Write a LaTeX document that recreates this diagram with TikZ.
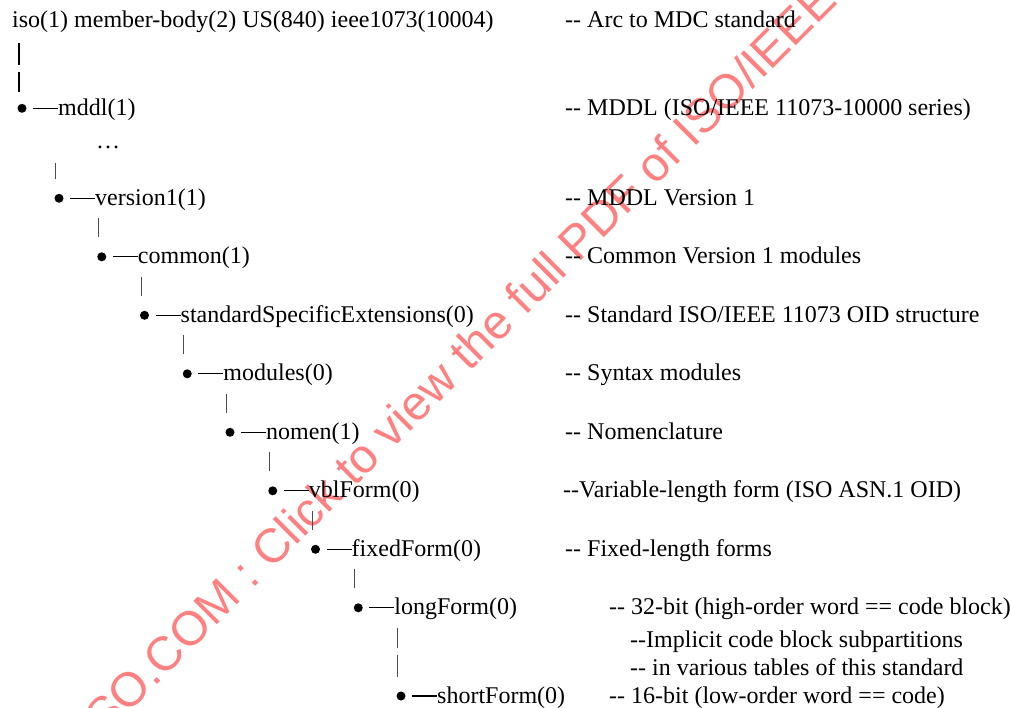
\documentclass[tikz,border=0pt]{standalone}
\usepackage{fontspec}
\setmainfont{Liberation Serif}[Ligatures=TeXOff]
\newfontfamily\marksans{Liberation Sans}
\tikzset{
  bullet/.style={circle,fill,inner sep=0pt,minimum size=9pt},
  oid/.style={anchor=base west,inner sep=0pt},
  arc/.style={line width=1.1pt,shorten <=6.5pt},
  vbar/.style={draw=black!70,line width=1.1pt,shorten <=20pt,shorten >=16pt},
  rootbar/.style={line width=1.8pt},
  watermark/.style={anchor=base west,inner sep=0pt,rotate=45,text=red!50,
    font=\marksans\fontsize{48}{48}\selectfont},
}
\begin{document}
\begin{tikzpicture}[x=1pt,y=-1pt,font=\fontsize{24}{28}\selectfont]
    \useasboundingbox (0,0) rectangle (1011,708);
    % Watermark of the page, lying behind the tree
    \node[watermark] (mark) at (271,571)
      {\llap{STANDARDSISO.COM :\ }Click to view the full PDF of ISO/IEEE 11073-10101:2020};

    % Root of the arc:
    \node[oid] (iso) at (12,28) {iso(1) member-body(2) US(840) ieee1073(10004)};

    % Bullets of the tree: `(x,y)` of each level
    \node[bullet] (b1) at (22,108.3) {};
    \node[bullet] (b2) at (59,198.3) {};
    \node[bullet] (b3) at (101.75,256.8) {};
    \node[bullet] (b4) at (144.5,315.3) {};
    \node[bullet] (b5) at (187.25,373.8) {};
    \node[bullet] (b6) at (230,432.3) {};
    \node[bullet] (b7) at (272.75,490.8) {};
    \node[bullet] (b8) at (315.5,549.3) {};
    \node[bullet] (b9) at (358.25,607.8) {};
    \node[bullet] (b10) at (401,696) {};

    % Names of the arcs, 36pt right of their bullet
    \node[oid] (mddl) at (58,115.3) {mddl(1)};
    \node[oid] (dots) at (96,148.5) {…};
    \node[oid] (version) at (95,205.3) {version1(1)};
    \node[oid] (common) at (137.75,263.8) {common(1)};
    \node[oid] (sse) at (180.5,322.3) {standardSpecificExtensions(0)};
    \node[oid] (modules) at (223.25,380.8) {modules(0)};
    \node[oid] (nomen) at (266,439.3) {nomen(1)};
    \node[oid] (vbl) at (308.75,497.8) {vblForm(0)};
    \node[oid] (fixed) at (351.5,556.3) {fixedForm(0)};
    \node[oid] (long) at (394.25,614.8) {longForm(0)};
    \node[oid] (short) at (437,703) {shortForm(0)};

    % Dashes from each bullet to its name
    \draw[arc] (b1) -- (b1 -| mddl.west);
    \draw[arc] (b2) -- (b2 -| version.west);
    \draw[arc] (b3) -- (b3 -| common.west);
    \draw[arc] (b4) -- (b4 -| sse.west);
    \draw[arc] (b5) -- (b5 -| modules.west);
    \draw[arc] (b6) -- (b6 -| nomen.west);
    \draw[arc] (b7) -- (b7 -| vbl.west);
    \draw[arc] (b8) -- (b8 -| fixed.west);
    \draw[arc] (b9) -- (b9 -| long.west);
    \draw[arc] (b10) -- (b10 -| short.west);

    % Vertical bars between the levels
    \draw[rootbar,shorten <=21pt,shorten >=12.5pt,dash pattern=on 22pt off 7pt on 60pt]
      (b1.north west |- iso) -- (b1.north west);
    \draw[vbar,shorten <=16pt] (b2.north west |- dots) -- (b2.north west);
    \draw[vbar] (b3.north west |- b2) -- (b3.north west);
    \draw[vbar] (b4.north west |- b3) -- (b4.north west);
    \draw[vbar] (b5.north west |- b4) -- (b5.north west);
    \draw[vbar] (b6.north west |- b5) -- (b6.north west);
    \draw[vbar] (b7.north west |- b6) -- (b7.north west);
    \draw[vbar] (b8.north west |- b7) -- (b8.north west);
    \draw[vbar] (b9.north west |- b8) -- (b9.north west);
    \draw[vbar,dash pattern=on 20pt off 7pt on 60pt] (b10.north west |- b9) -- (b10.north west);

    % Comments of the arcs
    \node[oid] (c0) at (565,28) {-- Arc to MDC standard};
    \node[oid] (c1) at (565,115.3) {-- MDDL (ISO/IEEE 11073-10000 series)};
    \node[oid] (c2) at (565,205.3) {-- MDDL Version 1};
    \node[oid] (c3) at (565,263.8) {-- Common Version 1 modules};
    \node[oid] (c4) at (565,322.3) {-- Standard ISO/IEEE 11073 OID structure};
    \node[oid] (c5) at (565,380.8) {-- Syntax modules};
    \node[oid] (c6) at (565,439.3) {-- Nomenclature};
    \node[oid] (c7) at (563,497.8) {--Variable-length form (ISO ASN.1 OID)};
    \node[oid] (c8) at (565,556.3) {-- Fixed-length forms};
    \node[oid] (c9) at (609,614.8) {-- 32-bit (high-order word == code block)};
    \node[oid] (c9a) at (630,647) {--Implicit code block subpartitions};
    \node[oid] (c9b) at (630,675) {-- in various tables of this standard};
    \node[oid] (c10) at (609,703) {-- 16-bit (low-order word == code)};
\end{tikzpicture}
\end{document}
